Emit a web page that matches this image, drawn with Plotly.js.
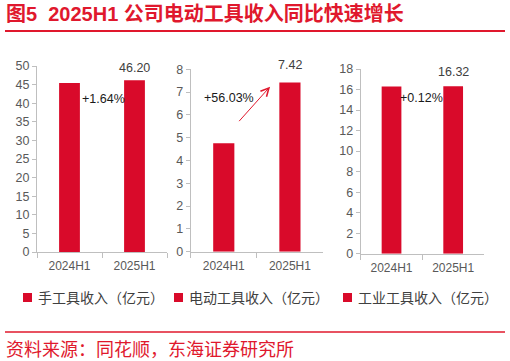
<!DOCTYPE html>
<html>
<head>
<meta charset="utf-8">
<script src="https://cdn.plot.ly/plotly-3.0.1.min.js"></script>
<style>html,body{margin:0;padding:0;background:#fff;}#chart{width:510px;height:361px;}</style>
</head>
<body>
<div id="chart"></div>
<script>
const categories = ['2024H1', '2025H1'];
const handTool = [45.45, 46.20];
const powerTool = [4.755, 7.42];
const industrialTool = [16.30, 16.32];
const growthLabels = ['+1.64%', '+56.03%', '+0.12%'];
const seriesNames = ['手工具收入（亿元）', '电动工具收入（亿元）', '工业工具收入（亿元）'];
const titleText = '图5  2025H1 公司电动工具收入同比快速增长';
const sourceText = '资料来源：同花顺，东海证券研究所';

const W = 510, H = 361;
const px = x => x / W;
const py = y => 1 - y / H;
const RED = '#e0182d';
const BAR = '#d90a2a';
const LATIN = 'Liberation Sans, Arial, sans-serif';
const CJK = 'Liberation Sans, Noto Sans CJK SC, sans-serif';

const series = [handTool, powerTool, industrialTool];
const traces = series.map((vals, i) => ({
  type: 'bar',
  x: categories,
  y: vals,
  name: seriesNames[i],
  xaxis: i === 0 ? 'x' : 'x' + (i + 1),
  yaxis: i === 0 ? 'y' : 'y' + (i + 1),
  marker: {color: BAR},
  width: 0.32,
  hoverinfo: 'skip',
  showlegend: false
}));

function xax(domain, anchor) {
  return {
    domain: domain, anchor: anchor, type: 'category', showline: true, linecolor: '#bfbfbf', linewidth: 1,
    ticks: 'outside', tickson: 'boundaries', ticklen: 5, tickcolor: '#bfbfbf',
    ticklabelstandoff: 3,
    showgrid: false, zeroline: false, fixedrange: true,
    tickfont: {family: LATIN, size: 12, color: '#595959'}
  };
}
function yax(domain, anchor, max, dtick) {
  return {
    domain: domain, anchor: anchor, range: [0, max], dtick: dtick, showline: true,
    linecolor: '#bfbfbf', linewidth: 1, ticks: 'outside', ticklen: 4, tickcolor: '#bfbfbf',
    showgrid: false, zeroline: false, fixedrange: true,
    tickfont: {family: LATIN, size: 12.5, color: '#595959'}
  };
}

const annotations = [];
// title & source
annotations.push({xref: 'paper', yref: 'paper', x: px(4), y: py(14), xanchor: 'left', yanchor: 'middle',
  text: '<b>' + titleText + '</b>', showarrow: false,
  font: {family: CJK, size: 20, color: RED}});
annotations.push({xref: 'paper', yref: 'paper', x: px(4), y: py(348), xanchor: 'left', yanchor: 'middle',
  text: sourceText, showarrow: false,
  font: {family: 'Noto Sans CJK SC, sans-serif', size: 18, color: RED}});

// value labels on 2025H1 bars
const axisIds = [['x', 'y'], ['x2', 'y2'], ['x3', 'y3']];
const valShift = [3, 9, 5];
series.forEach((vals, i) => {
  annotations.push({xref: axisIds[i][0], yref: axisIds[i][1], x: categories[1], y: vals[1],
    yanchor: 'bottom', yshift: valShift[i], text: vals[1].toFixed(2), showarrow: false,
    font: {family: LATIN, size: 12.5, color: '#404040'}});
});
// growth labels
annotations.push({xref: 'x', yref: 'y', x: 0.53, y: 41.2, text: growthLabels[0], showarrow: false,
  font: {family: LATIN, size: 12.5, color: '#1a1a1a'}});
annotations.push({xref: 'x2', yref: 'y2', x: 0.08, y: 6.74, text: growthLabels[1], showarrow: false,
  font: {family: LATIN, size: 12.5, color: '#1a1a1a'}});
annotations.push({xref: 'x3', yref: 'y3', x: 0.494, y: 15.17, text: growthLabels[2], showarrow: false,
  font: {family: LATIN, size: 12.5, color: '#1a1a1a'}});
// arrow
annotations.push({xref: 'x2', yref: 'y2', axref: 'x2', ayref: 'y2', x: 0.70, y: 7.24, ax: 0.212, ay: 5.66,
  text: '', showarrow: true, arrowhead: 5, arrowsize: 1.6, arrowwidth: 1, arrowcolor: RED, standoff: 0});

// legend (manual)
const legX = [23, 174, 343];
const shapes = [];
legX.forEach((x, i) => {
  shapes.push({type: 'rect', xref: 'paper', yref: 'paper', x0: px(x), x1: px(x + 9), y0: py(302), y1: py(293),
    fillcolor: BAR, line: {width: 0}});
  annotations.push({xref: 'paper', yref: 'paper', x: px(x + 13), y: py(297.5), xanchor: 'left', yanchor: 'middle',
    text: seriesNames[i], showarrow: false, font: {family: CJK, size: 14, color: '#404040'}});
});
// rules
shapes.push({type: 'line', xref: 'paper', yref: 'paper', x0: px(5), x1: px(505), y0: py(31), y1: py(31),
  line: {color: RED, width: 2}});
shapes.push({type: 'line', xref: 'paper', yref: 'paper', x0: px(5), x1: px(505), y0: py(332), y1: py(332),
  line: {color: RED, width: 1.5}});

const layout = {
  width: W, height: H, margin: {l: 0, r: 0, t: 0, b: 0},
  paper_bgcolor: '#fff', plot_bgcolor: '#fff', showlegend: false,
  xaxis: xax([px(37), px(167)], 'y'),
  xaxis2: xax([px(190.7), px(323)], 'y2'),
  xaxis3: xax([px(360.7), px(484)], 'y3'),
  yaxis: yax([py(252), py(66)], 'x', 50, 5),
  yaxis2: yax([py(251.7), py(69.3)], 'x2', 8, 1),
  yaxis3: yax([py(253.7), py(69)], 'x3', 18, 2),
  annotations: annotations,
  shapes: shapes
};

Plotly.newPlot('chart', traces, layout, {staticPlot: true, displayModeBar: false});
</script>
</body>
</html>
